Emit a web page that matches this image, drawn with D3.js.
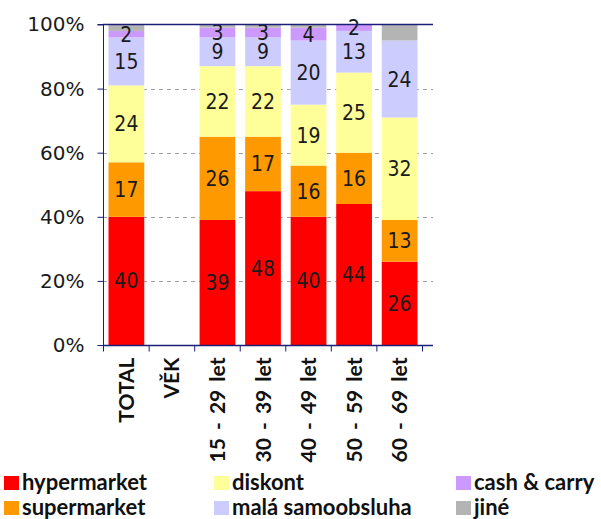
<!DOCTYPE html>
<html>
<head>
<meta charset="utf-8">
<script src="https://cdn.jsdelivr.net/npm/d3@7"></script>
<style>
  html, body { margin: 0; padding: 0; background: #fff; }
  svg { display: block; }
</style>
</head>
<body>
<svg id="chart" width="601" height="519"></svg>
<script>
// Shopping-place shares (%) by age group
const categories = ["TOTAL", "VĚK", "15 - 29 let", "30 - 39 let", "40 - 49 let", "50 - 59 let", "60 - 69 let"];
const hypermarket = [40, null, 39, 48, 40, 44, 26];
const supermarket = [17, null, 26, 17, 16, 16, 13];
const diskont     = [24, null, 22, 22, 19, 25, 32];
const malaSamoobsluha = [15, null, 9, 9, 20, 13, 24];
const cashCarry   = [2, null, 3, 3, 4, 2, 0];
const jine        = [2, null, 1, 1, 1, 0, 5];

const seriesNames  = ["hypermarket", "supermarket", "diskont", "malá samoobsluha", "cash & carry", "jiné"];
const seriesValues = [hypermarket, supermarket, diskont, malaSamoobsluha, cashCarry, jine];
const seriesColors = ["#ff0000", "#ff9900", "#ffff99", "#ccccff", "#cc99ff", "#b4b4b4"];
const labelledSeries = [true, true, true, true, true, false];
const yTicks = [0, 20, 40, 60, 80, 100];

const axisColor = "#1c1f7a";
const svg = d3.select("#chart");

const plot = { left: 103, right: 433, top: 24.5, bottom: 345, bandEnd: 422.5 };

const x = d3.scaleBand()
  .domain(categories)
  .range([plot.left + 0.5, plot.bandEnd])
  .paddingInner(0.215)
  .paddingOuter(0.11);

const y = d3.scaleLinear().domain([0, 100]).range([plot.bottom, plot.top]);

// table of stacked rows
const rows = categories.map((c, i) => {
  const r = { category: c };
  seriesNames.forEach((s, k) => { r[s] = seriesValues[k][i] || 0; });
  return r;
});
const stacked = d3.stack().keys(seriesNames)(rows);

// dashed gridlines
svg.append("g")
  .selectAll("line")
  .data(yTicks.filter(t => t > 0 && t < 100))
  .join("line")
  .attr("x1", plot.left).attr("x2", plot.right)
  .attr("y1", d => Math.round(y(d)) + 0.5).attr("y2", d => Math.round(y(d)) + 0.5)
  .attr("stroke", "#a0a0a0")
  .attr("stroke-width", 1)
  .attr("stroke-dasharray", "4,4");

// bars
const layers = svg.append("g")
  .selectAll("g")
  .data(stacked)
  .join("g")
  .attr("fill", (d, i) => seriesColors[i]);

layers.selectAll("rect")
  .data(d => d.map(p => ({ p, key: d.key })))
  .join("rect")
  .attr("x", d => x(d.p.data.category))
  .attr("width", x.bandwidth())
  .attr("y", d => y(d.p[1]))
  .attr("height", d => Math.max(0, y(d.p[0]) - y(d.p[1])));

// value labels inside segments
const labelData = [];
stacked.forEach((layer, k) => {
  if (!labelledSeries[k]) return;
  layer.forEach((p, i) => {
    const v = seriesValues[k][i];
    if (v) labelData.push({ cat: p.data.category, mid: (p[0] + p[1]) / 2, v });
  });
});

svg.append("g")
  .selectAll("text")
  .data(labelData)
  .join("text")
  .attr("x", d => x(d.cat) + x.bandwidth() / 2)
  .attr("y", d => y(d.mid))
  .attr("dy", "0.36em")
  .attr("text-anchor", "middle")
  .style("font-family", "'DejaVu Sans Condensed', 'DejaVu Sans', sans-serif")
  .style("font-stretch", "condensed")
  .style("font-size", "21px")
  .attr("fill", "#1a1a1a")
  .text(d => d.v);

// y axis
const yAxis = svg.append("g")
  .attr("transform", `translate(${plot.left + 0.5},0)`)
  .call(d3.axisLeft(y).tickValues(yTicks).tickFormat(d => d + "%").tickSize(6).tickPadding(13));
yAxis.select(".domain").attr("stroke", axisColor).attr("d", `M-6,${plot.top}H0V${plot.bottom}`);
yAxis.selectAll(".tick line").attr("stroke", axisColor);
yAxis.selectAll(".tick text")
  .style("font-family", "'DejaVu Sans', sans-serif")
  .style("font-size", "20px")
  .attr("fill", "#1a1a1a");

// top boundary line at 100%
svg.append("line")
  .attr("x1", plot.left).attr("x2", plot.right)
  .attr("y1", plot.top).attr("y2", plot.top)
  .attr("stroke", axisColor).attr("stroke-width", 1.3);

// x axis with ticks on band edges
const xAxisG = svg.append("g").attr("transform", `translate(0,${plot.bottom + 0.5})`);
xAxisG.append("line")
  .attr("x1", plot.left).attr("x2", plot.right)
  .attr("stroke", axisColor).attr("stroke-width", 1.3);
const edges = categories.map(c => x(c) - x.step() * x.paddingInner() / 2)
  .concat([plot.bandEnd]);
edges[0] = plot.left + 0.5;
xAxisG.selectAll("line.edge")
  .data(edges)
  .join("line")
  .attr("class", "edge")
  .attr("x1", d => d).attr("x2", d => d)
  .attr("y1", 0).attr("y2", 6)
  .attr("stroke", axisColor);

xAxisG.selectAll("text")
  .data(categories)
  .join("text")
  .attr("transform", d => `translate(${x(d) + x.bandwidth() / 2},12) rotate(-90)`)
  .attr("dy", "0.36em")
  .attr("text-anchor", "end")
  .style("font-family", "Lato, sans-serif")
  .style("font-weight", "bold")
  .style("font-size", "21px")
  .style("word-spacing", "3px")
  .attr("fill", "#111")
  .text(d => d);

// legend: three columns of two entries
const legendCols = [22, 232, 474];
const legendRows = [490, 515];
const legend = svg.append("g")
  .selectAll("g")
  .data(seriesNames)
  .join("g")
  .attr("transform", (d, i) => `translate(${legendCols[Math.floor(i / 2)]},${legendRows[i % 2]})`);
legend.append("rect")
  .attr("x", -18).attr("y", -14)
  .attr("width", 15).attr("height", 14)
  .attr("fill", (d, i) => seriesColors[i]);
legend.append("text")
  .attr("x", 0).attr("y", 0)
  .style("font-family", "Lato, sans-serif")
  .style("font-weight", "bold")
  .style("font-size", "22px")
  .attr("fill", "#111")
  .text(d => d);
</script>
</body>
</html>
